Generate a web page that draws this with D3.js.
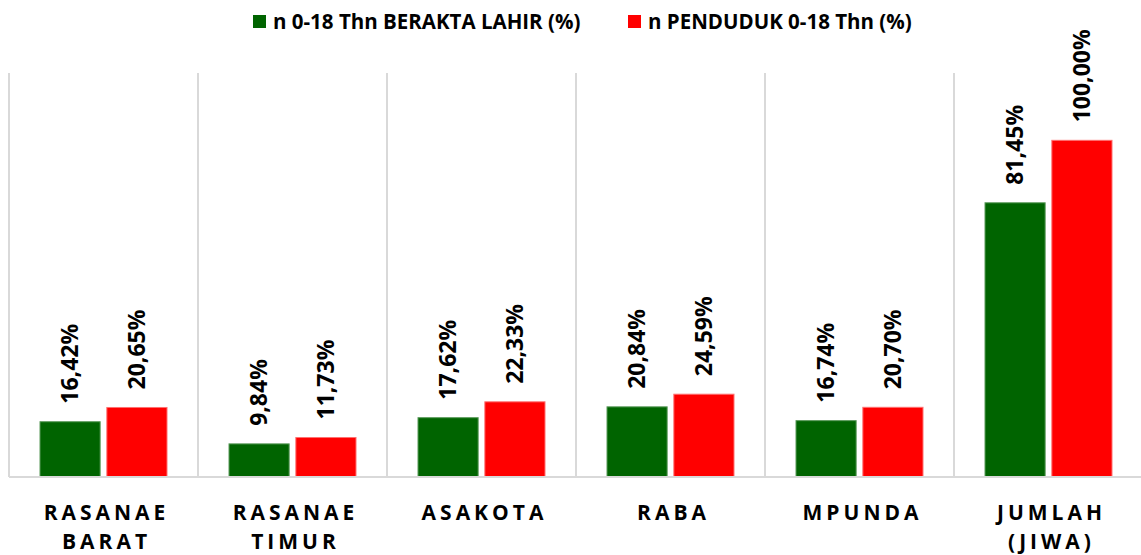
<!DOCTYPE html>
<html>
<head>
<meta charset="utf-8">
<script src="https://cdn.jsdelivr.net/npm/d3@7"></script>
<style>
  body { margin: 0; background: #fff; }
  text { font-family: "Open Sans", Lato, sans-serif; font-weight: bold; fill: #000; }
</style>
</head>
<body>
<div id="chart"></div>
<script>
// data
const categories = [['RASANAE', 'BARAT'], ['RASANAE', 'TIMUR'], ['ASAKOTA'], ['RABA'], ['MPUNDA'], ['JUMLAH', '(JIWA)']]
const seriesNames = ['n 0-18 Thn BERAKTA LAHIR (%)', 'n PENDUDUK 0-18 Thn (%)']
const lahir = [16.42, 9.84, 17.62, 20.84, 16.74, 81.45]
const penduduk = [20.65, 11.73, 22.33, 24.59, 20.7, 100.0]
const colors = ['#006400', '#ff0000']

const dimensions = {
  width: 1141,
  height: 555,
  margins: { top: 73, right: 0, bottom: 78, left: 9 },
}
const ctrW = 6 * 189
const ctrH = dimensions.height - dimensions.margins.top - dimensions.margins.bottom

const keys = categories.map((c) => c.join(' '))
const rows = keys.map((k, i) => ({ key: k, values: [lahir[i], penduduk[i]] }))

// scales
const xScale = d3.scaleBand().domain(keys).range([0, ctrW])
const xInner = d3.scaleBand().domain([0, 1]).range([31, 158]).paddingInner(0.1)
const yScale = d3.scaleLinear().domain([0, 120]).range([ctrH, 0])

const svg = d3
  .select('#chart')
  .append('svg')
  .attr('width', dimensions.width)
  .attr('height', dimensions.height)

const ctr = svg.append('g').attr('transform', `translate(${dimensions.margins.left}, ${dimensions.margins.top})`)

// vertical category separators
ctr
  .selectAll('line.sep')
  .data(d3.range(keys.length + 1))
  .join('line')
  .attr('x1', (i) => i * xScale.step())
  .attr('x2', (i) => i * xScale.step())
  .attr('y1', 0)
  .attr('y2', ctrH)
  .attr('stroke', '#d9d9d9')
  .attr('stroke-width', 2)

// bars
const groups = ctr
  .selectAll('g.cat')
  .data(rows)
  .join('g')
  .attr('transform', (d) => `translate(${xScale(d.key)},0)`)

groups
  .selectAll('rect')
  .data((d) => d.values)
  .join('rect')
  .attr('x', (d, i) => xInner(i))
  .attr('width', xInner.bandwidth())
  .attr('y', (d) => yScale(d))
  .attr('height', (d) => ctrH - yScale(d))
  .attr('fill', (d, i) => colors[i])
  .attr('stroke', (d, i) => (i === 0 ? '#5a9a5a' : '#ff7070'))
  .attr('stroke-width', 1)

// value labels
const fmt = (v) => d3.format('.2f')(v).replace('.', ',') + '%'
groups
  .selectAll('text.val')
  .data((d) => d.values)
  .join('text')
  .attr('class', 'val')
  .attr('transform', (d, i) => `translate(${xInner(i) + xInner.bandwidth() / 2 + 8},${yScale(d) - 18}) rotate(-90)`)
  .style('font-size', '23px')
  .text(fmt)

// x axis baseline
ctr
  .append('line')
  .attr('x1', 0)
  .attr('x2', ctrW)
  .attr('y1', ctrH)
  .attr('y2', ctrH)
  .attr('stroke', '#d9d9d9')
  .attr('stroke-width', 2)

// category labels
const catText = ctr
  .selectAll('text.cat')
  .data(categories)
  .join('text')
  .attr('class', 'cat')
  .attr('text-anchor', 'middle')
  .style('font-size', '21px')
  .style('letter-spacing', '4px')
  .attr('transform', (d, i) => `translate(${xScale(keys[i]) + xScale.bandwidth() / 2 + 3},${ctrH + 43})`)

catText
  .selectAll('tspan')
  .data((d) => d)
  .join('tspan')
  .attr('x', 0)
  .attr('dy', (d, i) => (i === 0 ? 0 : 29))
  .text((d) => d)

// legend
const legendX = [253, 628]
const legend = svg
  .selectAll('g.legend')
  .data(seriesNames)
  .join('g')
  .attr('transform', (d, i) => `translate(${legendX[i]},15)`)
legend.append('rect').attr('width', 13).attr('height', 13).attr('fill', (d, i) => colors[i])
legend
  .append('text')
  .attr('x', 20)
  .attr('y', 14)
  .style('font-size', '20.5px')
  .text((d) => d)
</script>
</body>
</html>
